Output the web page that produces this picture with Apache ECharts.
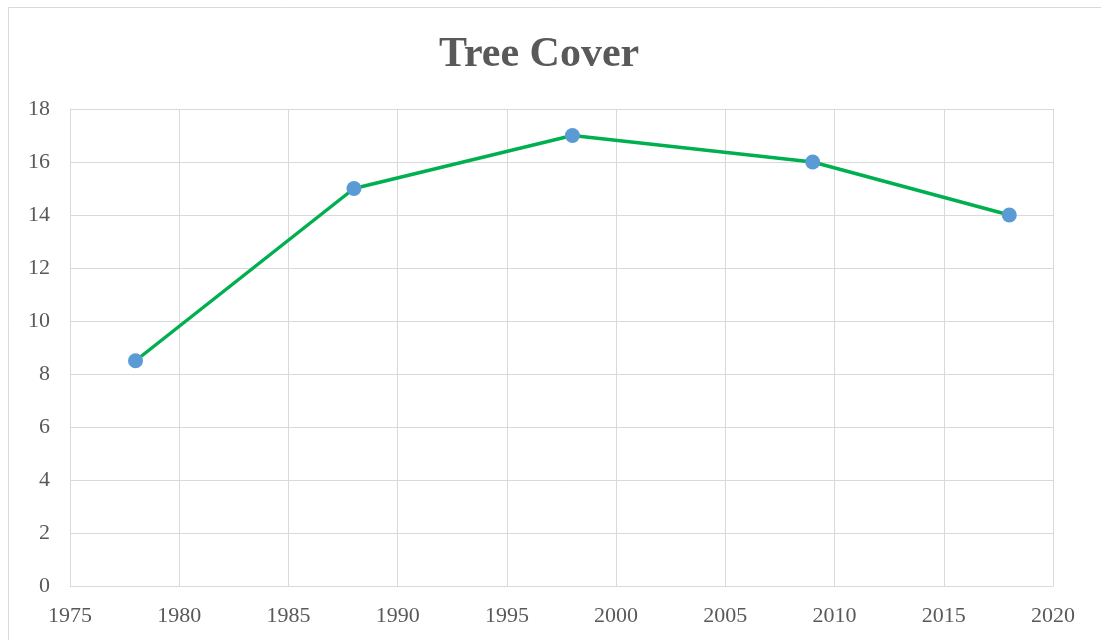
<!DOCTYPE html>
<html>
<head>
<meta charset="utf-8">
<script src="https://cdn.jsdelivr.net/npm/echarts@6/dist/echarts.min.js"></script>
<style>html,body{margin:0;padding:0;background:#fff;}#c{width:1101px;height:640px;}</style>
</head>
<body>
<div id="c"></div>
<script>
var years = [1978, 1988, 1998, 2009, 2018];
var treeCover = [8.5, 15, 17, 16, 14];
var titleText = 'Tree Cover';

var chart = echarts.init(document.getElementById('c'), null, {renderer: 'canvas'});
var font = '"Liberation Serif", "Times New Roman", serif';
chart.setOption({
  backgroundColor: '#fff',
  animation: false,
  graphic: [{
    type: 'rect', shape: {x: 8.5, y: 7.5, width: 1200, height: 700},
    style: {fill: 'none', stroke: '#d9d9d9', lineWidth: 1}, z: -1
  }],
  title: {
    text: titleText, left: 434, top: 29,
    textStyle: {fontFamily: font, fontWeight: 'bold', fontSize: 42, color: '#595959'}
  },
  grid: {left: 70, top: 109, right: 48, bottom: 54, containLabel: false},
  xAxis: {
    type: 'value', min: 1975, max: 2020, interval: 5,
    axisLine: {show: true, lineStyle: {color: '#d9d9d9', width: 1}},
    axisTick: {show: false},
    splitLine: {show: true, lineStyle: {color: '#d9d9d9', width: 1}},
    axisLabel: {fontFamily: font, fontSize: 22, color: '#595959', margin: 19,
      formatter: function (v) { return String(v); }}
  },
  yAxis: {
    type: 'value', min: 0, max: 18, interval: 2,
    axisLine: {show: true, lineStyle: {color: '#d9d9d9', width: 1}},
    axisTick: {show: false},
    splitLine: {show: true, lineStyle: {color: '#d9d9d9', width: 1}},
    axisLabel: {fontFamily: font, fontSize: 22, color: '#595959', margin: 20}
  },
  series: [{
    type: 'line',
    data: years.map(function (y, i) { return [y, treeCover[i]]; }),
    symbol: 'circle', symbolSize: 15,
    lineStyle: {color: '#00B050', width: 3.5},
    itemStyle: {color: '#5B9BD5', borderWidth: 0}
  }]
});
</script>
</body>
</html>
